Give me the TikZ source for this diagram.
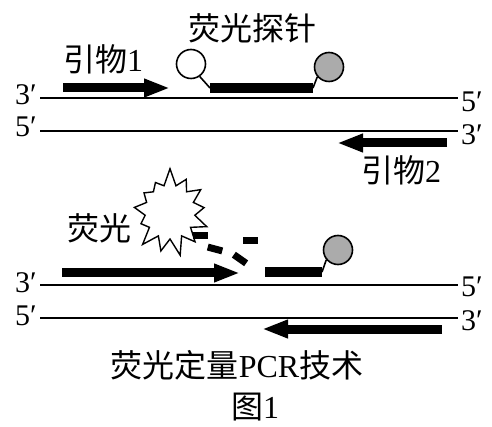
\documentclass[tikz,border=0pt]{standalone}
\usepackage{fontspec}
\setmainfont{Liberation Serif}
\newfontfamily\cjk{Noto Sans CJK SC}
\usetikzlibrary{arrows.meta,%
                shapes.symbols}

\begin{document}
\begin{tikzpicture}[x=1pt,y=-1pt]
  \tikzstyle{strand}=[line width=2.4pt]
  \tikzstyle{primer}=[line width=9pt,-{Triangle[length=26pt,width=17pt]}]
  \tikzstyle{probe}=[line width=10pt]
  \tikzstyle{link}=[line width=1.6pt]
  \tikzstyle{dye}=[circle,draw,line width=1.6pt,minimum size=29pt,inner sep=0pt]
  \tikzstyle{frag}=[rectangle,fill=black,minimum width=15pt,minimum height=7pt,inner sep=0pt]
  \tikzstyle{txt}=[font=\cjk\fontsize{32pt}{34pt}\selectfont,inner sep=0pt]
  \tikzstyle{lbl}=[font=\fontsize{30pt}{32pt}\selectfont,inner sep=0pt]
  \useasboundingbox (0,0) rectangle (492,427);

  % template strands, top
  \coordinate (S_1) at (40,98);   \coordinate (S_2) at (458,98);
  \coordinate (S_3) at (40,131);  \coordinate (S_4) at (458,131);
  \draw[strand] (S_1) -- (S_2);
  \draw[strand] (S_3) -- (S_4);
  \node[lbl,anchor=east] (E_1) at (37,95)  {3′};
  \node[lbl,anchor=west] (E_2) at (461,102) {5′};
  \node[lbl,anchor=east] (E_3) at (37,127) {5′};
  \node[lbl,anchor=west] (E_4) at (461,135) {3′};

  % primers
  \coordinate (A_1) at (63,88);   \coordinate (A_2) at (170,88);
  \coordinate (A_3) at (447,143); \coordinate (A_4) at (337,143);
  \draw[primer] (A_1) -- (A_2);
  \draw[primer] (A_3) -- (A_4);
  \node[txt] (T_1) at (103,59) {引物\textrm{1}};
  \node[txt] (T_2) at (401,170) {引物\textrm{2}};

  % probe
  \node[dye] (R_1) at (191,64) {};
  \node[dye,fill=black!33] (Q_1) at (329,67) {};
  \coordinate (B_1) at (210,88);  \coordinate (B_2) at (313,88);
  \draw[probe] (B_1) -- (B_2);
  \draw[link] (R_1.-55) -- (B_1);
  \draw[link] (B_2) -- (Q_1.-140);
  \node[txt] (T_3) at (252,28) {荧光探针};

  % after cleavage
  \node[starburst,draw,line width=1.4pt,minimum width=86pt,minimum height=90pt,
        starburst points=13,starburst point height=18pt,random starburst=7]
        (F_1) at (170,212) {};
  \node[txt] (T_4) at (99,228) {荧光};
  \node[frag] (D_1) at (200,236) {};
  \node[frag] (D_2) at (250,241) {};
  \node[frag,rotate=-15] (D_3) at (215,249) {};
  \node[frag,rotate=-35] (D_4) at (240,259) {};

  % template strands, bottom
  \coordinate (S_5) at (40,285);  \coordinate (S_6) at (458,285);
  \coordinate (S_7) at (40,318);  \coordinate (S_8) at (458,318);
  \draw[strand] (S_5) -- (S_6);
  \draw[strand] (S_7) -- (S_8);
  \node[lbl,anchor=east] (E_5) at (37,283) {3′};
  \node[lbl,anchor=west] (E_6) at (461,287) {5′};
  \node[lbl,anchor=east] (E_7) at (37,316) {5′};
  \node[lbl,anchor=west] (E_8) at (461,321) {3′};

  % extended primers and leftover quencher
  \coordinate (A_5) at (62,273);  \coordinate (A_6) at (240,273);
  \coordinate (A_7) at (442,329); \coordinate (A_8) at (262,329);
  \draw[primer] (A_5) -- (A_6);
  \draw[primer] (A_7) -- (A_8);
  \node[dye,fill=black!33] (Q_2) at (338,250) {};
  \coordinate (B_3) at (265,272); \coordinate (B_4) at (322,272);
  \draw[probe] (B_3) -- (B_4);
  \draw[link] (B_4) -- (Q_2.-140);

  \node[txt] (T_5) at (237,365) {荧光定量\textrm{PCR}技术};
  \node[txt] (T_6) at (255,407) {图\textrm{1}};
\end{tikzpicture}
\end{document}
